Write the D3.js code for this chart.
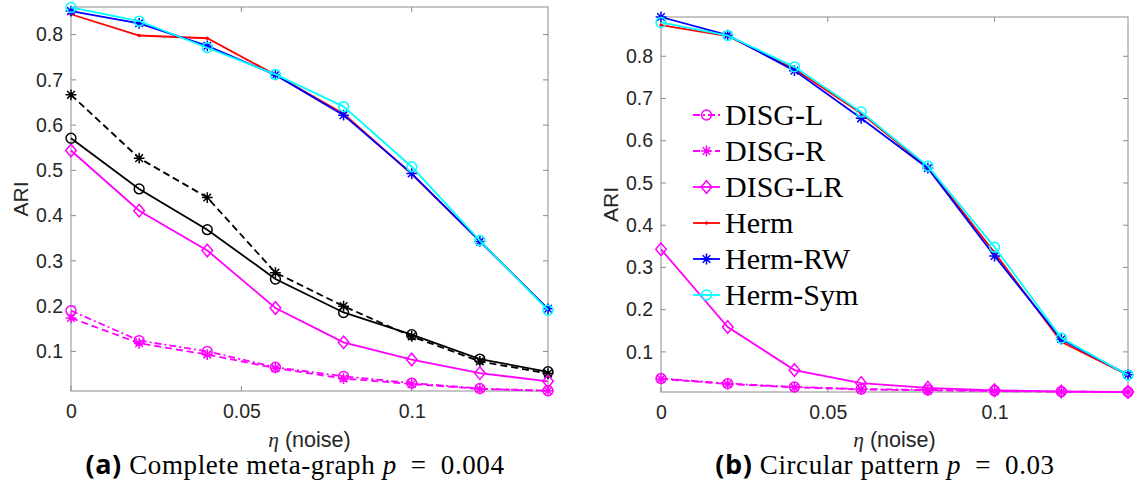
<!DOCTYPE html>
<html>
<head>
<meta charset="utf-8">
<script src="https://cdn.jsdelivr.net/npm/d3@7"></script>
<style>
  body { margin: 0; background: #fff; }
  svg { display: block; }
</style>
</head>
<body>
<svg id="chart" width="1137" height="481"></svg>
<script>
// noise levels on the x axis
const eta = [0, 0.02, 0.04, 0.06, 0.08, 0.1, 0.12, 0.14];
const xTicks = [0, 0.05, 0.1];
const yTicks = [0.1, 0.2, 0.3, 0.4, 0.5, 0.6, 0.7, 0.8];
const methodNames = ['DISG-L', 'DISG-R', 'DISG-LR', 'Herm', 'Herm-RW', 'Herm-Sym'];

// (a) complete meta-graph, p = 0.004
const completeDisgL   = [0.190, 0.124, 0.100, 0.065, 0.045, 0.030, 0.018, 0.013];
const completeDisgR   = [0.174, 0.118, 0.093, 0.063, 0.040, 0.028, 0.017, 0.013];
const completeDisgLR  = [0.544, 0.411, 0.323, 0.196, 0.120, 0.082, 0.052, 0.034];
const completeHerm    = [0.845, 0.798, 0.792, 0.711, 0.625, 0.492, 0.344, 0.193];
const completeHermRW  = [0.852, 0.825, 0.775, 0.711, 0.622, 0.493, 0.343, 0.194];
const completeHermSym = [0.860, 0.830, 0.771, 0.712, 0.641, 0.508, 0.345, 0.191];
// two extra black curves drawn only in panel (a)
const completeBlackSolid  = [0.571, 0.459, 0.369, 0.260, 0.186, 0.137, 0.083, 0.055];
const completeBlackDashed = [0.667, 0.527, 0.440, 0.274, 0.200, 0.133, 0.078, 0.051];

// (b) circular pattern, p = 0.03
const circularDisgL   = [0.037, 0.025, 0.017, 0.012, 0.010, 0.008, 0.006, 0.005];
const circularDisgR   = [0.036, 0.024, 0.016, 0.011, 0.009, 0.007, 0.006, 0.005];
const circularDisgLR  = [0.343, 0.159, 0.057, 0.026, 0.015, 0.009, 0.006, 0.005];
const circularHerm    = [0.874, 0.848, 0.770, 0.665, 0.537, 0.335, 0.124, 0.045];
const circularHermRW  = [0.893, 0.850, 0.766, 0.653, 0.535, 0.327, 0.130, 0.046];
const circularHermSym = [0.880, 0.849, 0.775, 0.668, 0.540, 0.348, 0.133, 0.045];

// line styles per method
const styles = {
  'DISG-L':   { color: '#ff00ff', dash: '7,3,2,3', marker: 'circle' },
  'DISG-R':   { color: '#ff00ff', dash: '7,4', marker: 'star' },
  'DISG-LR':  { color: '#ff00ff', dash: null, marker: 'diamond' },
  'Herm':     { color: '#ff0000', dash: null, marker: 'dot' },
  'Herm-RW':  { color: '#0000ff', dash: null, marker: 'star' },
  'Herm-Sym': { color: '#00ffff', dash: null, marker: 'circle' },
  'blackSolid':  { color: '#000000', dash: null, marker: 'circle' },
  'blackDashed': { color: '#000000', dash: '7,4', marker: 'star' }
};

const panels = [
  {
    box: { left: 71, right: 548, top: 7, bottom: 391 },
    yDomain: [0.0125, 0.861],
    series: [
      ['blackSolid', completeBlackSolid],
      ['blackDashed', completeBlackDashed],
      ['DISG-L', completeDisgL],
      ['DISG-R', completeDisgR],
      ['DISG-LR', completeDisgLR],
      ['Herm', completeHerm],
      ['Herm-RW', completeHermRW],
      ['Herm-Sym', completeHermSym]
    ],
    tag: '(a)', caption: ' Complete meta-graph ', pval: '0.004',
    capX: 295,
    legend: false
  },
  {
    box: { left: 661, right: 1128, top: 17, bottom: 392 },
    yDomain: [0.005, 0.893],
    series: [
      ['DISG-L', circularDisgL],
      ['DISG-R', circularDisgR],
      ['DISG-LR', circularDisgLR],
      ['Herm', circularHerm],
      ['Herm-RW', circularHermRW],
      ['Herm-Sym', circularHermSym]
    ],
    tag: '(b)', caption: ' Circular pattern ', pval: '0.03',
    capX: 885,
    legend: true
  }
];

const sansFont = '"Liberation Sans", Arial, Helvetica, sans-serif';
const serifFont = '"Liberation Serif", "Times New Roman", serif';
const axisGrey = '#8c8c8c';
const textColor = '#262626';
const lineW = 1.8;

const svg = d3.select('#chart');
svg.append('rect').attr('width', 1137).attr('height', 481).attr('fill', '#fff');

// draw one marker at (0,0) inside group g
function drawMarker(g, type, color) {
  if (type === 'circle') {
    g.append('circle').attr('r', 4.9).attr('fill', 'none')
      .attr('stroke', color).attr('stroke-width', 1.5);
  } else if (type === 'diamond') {
    g.append('path').attr('d', 'M0,-6.3L5.3,0L0,6.3L-5.3,0Z').attr('fill', 'none')
      .attr('stroke', color).attr('stroke-width', 1.5);
  } else if (type === 'star') {
    const r = 5.4, d = 3.8;
    g.append('path')
      .attr('d', `M0,${-r}V${r}M${-r},0H${r}M${-d},${-d}L${d},${d}M${-d},${d}L${d},${-d}`)
      .attr('stroke', color).attr('stroke-width', 1.5).attr('fill', 'none');
  } else if (type === 'dot') {
    g.append('circle').attr('r', 1.7).attr('fill', color);
  }
}

panels.forEach(p => {
  const b = p.box;
  const x = d3.scaleLinear().domain([0, 0.14]).range([b.left, b.right]);
  const y = d3.scaleLinear().domain(p.yDomain).range([b.bottom, b.top]);
  const g = svg.append('g');

  // axes (MATLAB box style, ticks inward on all sides)
  const bottomAxis = d3.axisBottom(x).tickValues(xTicks).tickSize(0).tickFormat(d3.format('~g'));
  const gx = g.append('g').attr('transform', `translate(0,${b.bottom})`).call(bottomAxis);
  gx.select('.domain').remove();
  gx.selectAll('text').attr('y', 27).attr('dy', '0')
    .style('font-family', sansFont).style('font-size', '19.5px').attr('fill', textColor);

  const leftAxis = d3.axisLeft(y).tickValues(yTicks).tickSize(0).tickFormat(d3.format('.1f'));
  const gy = g.append('g').attr('transform', `translate(${b.left},0)`).call(leftAxis);
  gy.select('.domain').remove();
  gy.selectAll('text').attr('x', -8)
    .style('font-family', sansFont).style('font-size', '19.5px').attr('fill', textColor);

  g.append('rect')
    .attr('x', b.left).attr('y', b.top)
    .attr('width', b.right - b.left).attr('height', b.bottom - b.top)
    .attr('fill', 'none').attr('stroke', axisGrey).attr('stroke-width', 1);

  const tickLen = 5;
  xTicks.forEach(t => {
    g.append('line').attr('x1', x(t)).attr('x2', x(t))
      .attr('y1', b.bottom).attr('y2', b.bottom - tickLen).attr('stroke', axisGrey);
    g.append('line').attr('x1', x(t)).attr('x2', x(t))
      .attr('y1', b.top).attr('y2', b.top + tickLen).attr('stroke', axisGrey);
  });
  yTicks.forEach(t => {
    g.append('line').attr('x1', b.left).attr('x2', b.left + tickLen)
      .attr('y1', y(t)).attr('y2', y(t)).attr('stroke', axisGrey);
    g.append('line').attr('x1', b.right).attr('x2', b.right - tickLen)
      .attr('y1', y(t)).attr('y2', y(t)).attr('stroke', axisGrey);
  });

  // series
  const line = d3.line().x((d, i) => x(eta[i])).y(d => y(d));
  p.series.forEach(([name, values]) => {
    const s = styles[name];
    g.append('path').datum(values)
      .attr('d', line)
      .attr('fill', 'none')
      .attr('stroke', s.color)
      .attr('stroke-width', lineW)
      .attr('stroke-dasharray', s.dash);
    values.forEach((v, i) => {
      const m = g.append('g').attr('transform', `translate(${x(eta[i])},${y(v)})`);
      drawMarker(m, s.marker, s.color);
    });
  });

  // y label
  const cy = (b.top + b.bottom) / 2;
  g.append('text')
    .attr('transform', `translate(${b.left - 43},${cy}) rotate(-90)`)
    .attr('text-anchor', 'middle')
    .style('font-family', sansFont).style('font-size', '21px').attr('fill', textColor)
    .text('ARI');

  // x label
  const cx = (b.left + b.right) / 2;
  const xl = g.append('text')
    .attr('x', cx).attr('y', 447)
    .attr('text-anchor', 'middle').attr('fill', textColor)
    .style('font-size', '21.5px');
  xl.append('tspan').style('font-family', serifFont).style('font-style', 'italic').text('η');
  xl.append('tspan').style('font-family', sansFont).text(' (noise)');

  // caption
  const cap = g.append('text')
    .attr('x', p.capX).attr('y', 474)
    .attr('text-anchor', 'middle').attr('fill', '#000')
    .style('font-size', '27px').style('letter-spacing', '0.6px');
  cap.append('tspan').style('font-family', '"Open Sans", "DejaVu Sans", sans-serif')
    .style('font-weight', 700).text(p.tag);
  cap.append('tspan').style('font-family', serifFont).text(p.caption);
  cap.append('tspan').style('font-family', serifFont).style('font-style', 'italic').text('p');
  cap.append('tspan').style('font-family', serifFont).text('\u2002=\u2002' + p.pval);

  // legend
  if (p.legend) {
    const lg = g.append('g');
    methodNames.forEach((name, i) => {
      const s = styles[name];
      const ry = 115 + i * 36;
      lg.append('line').attr('x1', 693).attr('x2', 720).attr('y1', ry).attr('y2', ry)
        .attr('stroke', s.color).attr('stroke-width', lineW).attr('stroke-dasharray', s.dash);
      const m = lg.append('g').attr('transform', `translate(706.5,${ry})`);
      drawMarker(m, s.marker, s.color);
      lg.append('text').attr('x', 725).attr('y', ry + 10)
        .style('font-family', serifFont).style('font-size', '30px').attr('fill', '#000')
        .text(name);
    });
  }
});
</script>
</body>
</html>
